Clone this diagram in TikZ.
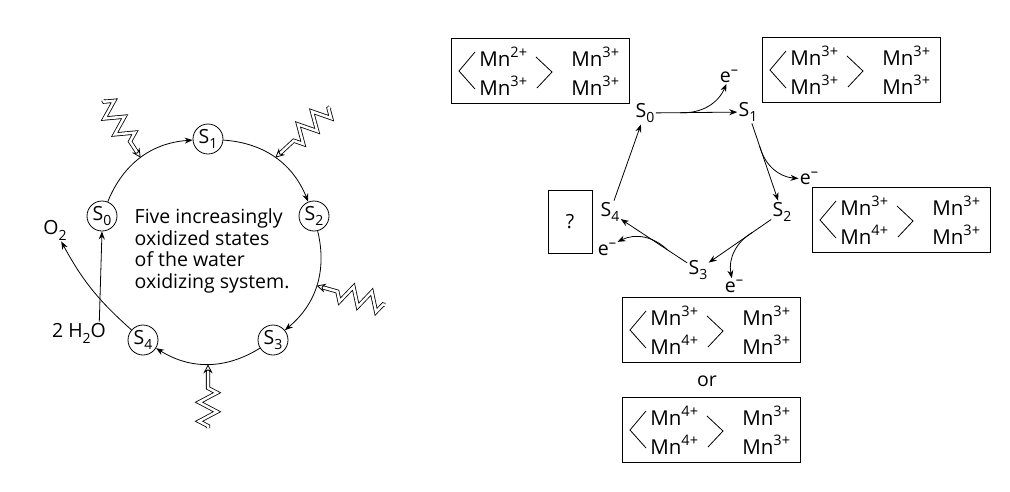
\documentclass[tikz,border=0pt]{standalone}
\usepackage{fontspec}
\setmainfont{Open Sans}
\usetikzlibrary{arrows.meta,calc,decorations.pathmorphing,positioning}

\newcommand\chg[1]{\raisebox{0.42em}{\fontsize{14.5}{15}\selectfont#1}}
\newcommand\sub[1]{\raisebox{-0.3em}{\fontsize{14}{14}\selectfont#1}}

\tikzset{
    state/.style={circle,draw,inner sep=0pt,minimum size=30pt},
    lbl/.style={inner sep=1pt},
    cyc/.style={-{Stealth[length=8pt,width=6pt]}},
    bolt/.style={double,double distance=2.5pt,line join=miter,
        decorate,decoration={zigzag,amplitude=9pt,segment length=19pt,pre length=2pt,post length=18pt},
        -{Stealth[length=9pt,width=9pt,open]}},
    mnframe/.style={draw,minimum width=178pt,minimum height=65pt},
    mnion/.style={inner sep=0pt,font=\fontsize{20.5}{22}\selectfont},
}

\newcommand\mnbox[6]{%
    \node[mnframe] (#1) at #2 {};
    \node[mnion,anchor=west] (#1a) at ($(#1.center)+(-61,-14)$) {Mn\chg{#3}};
    \node[mnion,anchor=west] (#1b) at ($(#1.center)+(-61,15)$) {Mn\chg{#4}};
    \node[mnion,anchor=west] (#1c) at ($(#1.center)+(31,-14)$) {Mn\chg{#5}};
    \node[mnion,anchor=west] (#1d) at ($(#1.center)+(31,15)$) {Mn\chg{#6}};
    \draw ($(#1.center)+(-65,-19)$) -- ($(#1.center)+(-81,0)$) -- ($(#1.center)+(-65,18)$);
    \draw ($(#1.center)+(-4,-14)$) -- ($(#1.center)+(12,1)$) -- ($(#1.center)+(-3,17)$);
}

\begin{document}
\begin{tikzpicture}[x=1pt,y=-1pt,line width=0.8pt,font=\fontsize{19.5}{21.5}\selectfont]
    \useasboundingbox (0,0) rectangle (1010,491);

    \node[state] (c0) at (102,216) {S\sub{0}};
    \node[state] (c1) at (208,139) {S\sub{1}};
    \node[state] (c2) at (314,216) {S\sub{2}};
    \node[state] (c3) at (273,340) {S\sub{3}};
    \node[state] (c4) at (143,340) {S\sub{4}};

    \draw[cyc] (c0) to[bend left=32] coordinate[pos=0.5] (h01) (c1);
    \draw[cyc] (c1) to[bend left=32] coordinate[pos=0.5] (h12) (c2);
    \draw[cyc] (c2) to[bend left=32] coordinate[pos=0.5] (h23) (c3);
    \draw[cyc] (c3) to[bend left=32] coordinate[pos=0.5] (h34) (c4);

    \node[lbl] (o2) at (55,230) {O\sub{2}};
    \node[lbl] (h2o) at (79,333) {2 H\sub{2}O};
    \draw[cyc] (c4) to[bend left=10] (o2);
    \draw[cyc] ([xshift=-8pt]h2o.north east) -- (c0.south);

    \node[align=left,anchor=west] (desc) at (131,251) {Five increasingly\\oxidized states\\of the water\\oxidizing system.};

    \coordinate (ta) at (103,100);
    \coordinate (tb) at (330,107);
    \coordinate (tc) at (385,305);
    \coordinate (td) at (208,428);
    \foreach \t/\h in {ta/h01,tb/h12,tc/h23,td/h34}
        \draw[bolt] (\t) -- (\h);

    \node[lbl] (s0) at (645,113) {S\sub{0}};
    \node[lbl] (s1) at (748,112) {S\sub{1}};
    \node[lbl] (s2) at (782,212) {S\sub{2}};
    \node[lbl] (s3) at (698,270) {S\sub{3}};
    \node[lbl] (s4) at (610,212) {S\sub{4}};

    \node[lbl] (e1) at (729,76) {e\chg{--}};
    \node[lbl] (e2) at (809,178) {e\chg{--}};
    \node[lbl] (e3) at (734,286) {e\chg{--}};
    \node[lbl] (e4) at (607,249) {e\chg{--}};

    \draw[cyc] (s0) -- coordinate[pos=0.3] (k1) (s1);
    \draw[cyc] (s1) -- coordinate[pos=0.3] (k2) (s2);
    \draw[cyc] (s2) -- coordinate[pos=0.3] (k3) (s3);
    \draw[cyc] (s3) -- coordinate[pos=0.3] (k4) (s4);
    \draw[cyc] (s4) -- (s0);
    \draw[cyc] (k1) to[bend right=35] (e1);
    \draw[cyc] (k2) to[bend right=35] (e2);
    \draw[cyc] (k3) to[bend right=35] (e3);
    \draw[cyc] (k4) to[bend right=35] (e4);

    \mnbox{b0}{(540,71)}{2+}{3+}{3+}{3+}
    \mnbox{b1}{(851,70)}{3+}{3+}{3+}{3+}
    \mnbox{b2}{(901,220)}{3+}{4+}{3+}{3+}
    \mnbox{b3}{(711,330)}{3+}{4+}{3+}{3+}
    \mnbox{b4}{(711,430)}{4+}{4+}{3+}{3+}
    \node[lbl] (or) at (707,381) {or};
    \node[draw,minimum width=44pt,minimum height=63pt] (q) at (570,222) {?};
\end{tikzpicture}
\end{document}
